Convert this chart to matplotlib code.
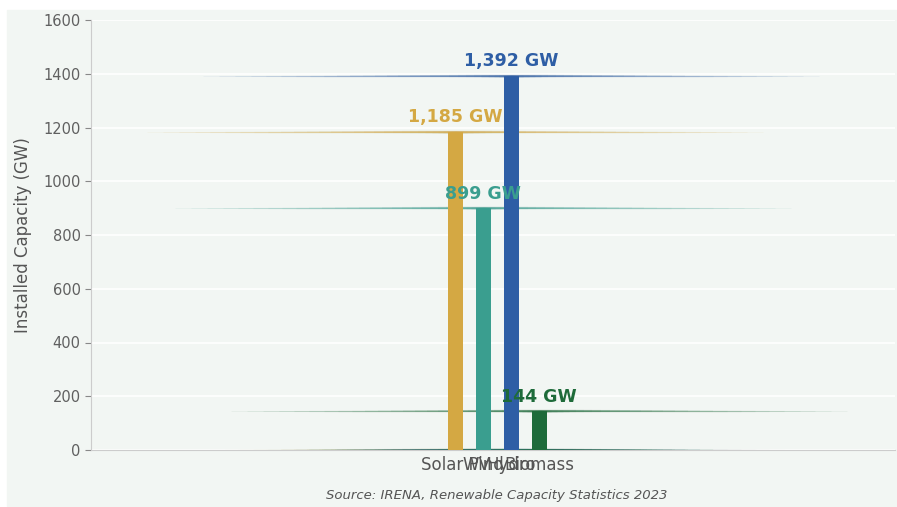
import numpy as np
import matplotlib.pyplot as plt
from matplotlib.patches import Rectangle

# data
sources = ["Solar PV", "Wind", "Hydro", "Biomass"]
capacity = [1185, 899, 1392, 144]
colors = ["#D4A843", "#3A9E8F", "#2E5EA5", "#1E6B3A"]
yticks = [0, 200, 400, 600, 800, 1000, 1200, 1400, 1600]

bg = "#F2F6F3"
txt = "#555555"

fig = plt.figure(figsize=(8.97, 5.07), dpi=100, facecolor="white")
fig.patches.append(Rectangle((7 / 897, 0.002), 889 / 897, 0.978,
                             transform=fig.transFigure, color=bg, zorder=-10))
ax = fig.add_axes([91 / 897, 57 / 507, 804 / 897, 430 / 507])
ax.set_facecolor(bg)

x = np.arange(len(sources))
ax.bar(x, capacity, width=0.54, color=colors, zorder=3)

# fading glow lines at the top and the base of every bar:
# stacked lines, shorter ones thicker, so the centre is strong and the ends fade
R = 11.0
N = 30
for xi, v, c in zip(x, capacity, colors):
    for yv in (v, 0):
        for k in range(1, N + 1):
            half = R * (k / N) ** 1.6
            ax.plot([xi - half, xi + half], [yv, yv], color=c, alpha=0.06,
                    lw=0.6 + 1.6 * (1 - k / N), solid_capstyle="butt", zorder=2)
    ax.annotate(f"{v:,} GW", (xi, v), xytext=(0, 4), textcoords="offset points",
                ha="center", va="bottom", color=c, fontsize=12.5,
                fontweight="bold", zorder=5)

ax.set_xlim(-13.0, 15.7)
ax.set_ylim(0, 1600)
ax.set_yticks(yticks)
ax.set_xticks(x)
ax.set_xticklabels(sources, fontsize=12, color=txt)
ax.tick_params(axis="y", labelsize=10.5, colors="#888888", labelcolor="#606060", length=4)
ax.tick_params(axis="x", length=0, pad=4)
ax.grid(axis="y", color="white", linewidth=1.2, zorder=0)
ax.set_axisbelow(True)
for s in ["top", "right"]:
    ax.spines[s].set_visible(False)
for s in ["left", "bottom"]:
    ax.spines[s].set_color("#CCCCCC")
ax.set_ylabel("Installed Capacity (GW)", fontsize=12, color=txt, labelpad=8)

fig.text(497 / 897, 1 - 496 / 507, "Source: IRENA, Renewable Capacity Statistics 2023",
         ha="center", va="center", fontsize=9.5, style="italic", color=txt)

fig.savefig("out.png", dpi=100, facecolor="white")
